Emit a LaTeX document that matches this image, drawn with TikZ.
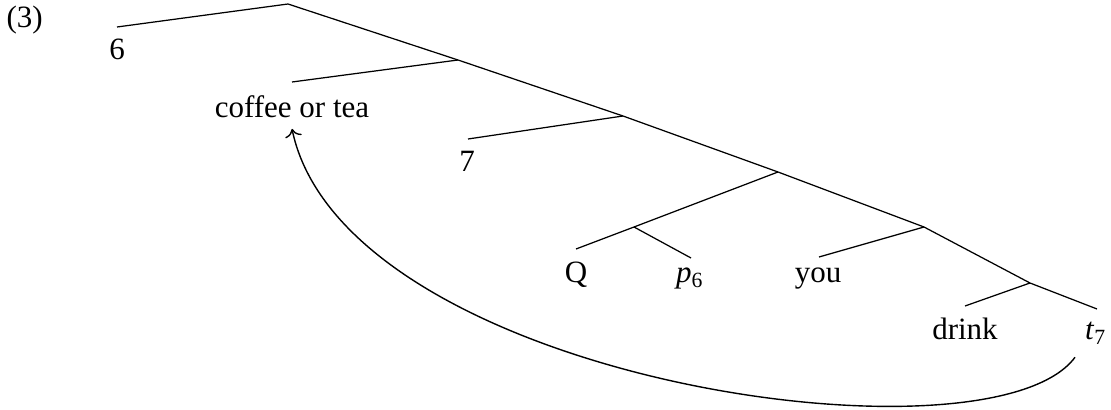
\documentclass[tikz,border=0pt]{standalone}
\usepackage{fontspec}
\setmainfont{Liberation Serif}
\usetikzlibrary{arrows.meta}

\begin{document}
\begin{tikzpicture}[
  x=0.3226pt, y=-0.3226pt,
  edge/.style={line width=0.4pt},
  leaf/.style={anchor=base, inner sep=0pt, font=\fontsize{10}{12}\selectfont},
  move/.style={->, line width=0.45pt},
]
\useasboundingbox (0,0) rectangle (1111,410);
%% example number
\node[leaf, anchor=base west] (exnum) at (6,28) {(3)};
%% branching points
\coordinate (root) at (288,4);
\coordinate (b1) at (458,60);
\coordinate (b2) at (623,116);
\coordinate (b3) at (778,172);
\coordinate (bq) at (634,227);
\coordinate (b4) at (924,227);
\coordinate (b5) at (1030,283);
%% tops of the leaf edges
\coordinate (six-e) at (117,27);
\coordinate (cot-e) at (292,82);
\coordinate (sev-e) at (468,139);
\coordinate (q-e) at (576,249);
\coordinate (p-e) at (691,258);
\coordinate (you-e) at (819,257);
\coordinate (drk-e) at (965,306);
\coordinate (t-e) at (1097,309);
%% leaves
\node[leaf] (six) at (117,60) {6};
\node[leaf] (cot) at (292,118) {coffee or tea};
\node[leaf] (sev) at (467,172) {7};
\node[leaf] (q) at (576,283) {Q};
\node[leaf] (psix) at (690,283) {\textit{p}\textsubscript{6}};
\node[leaf] (you) at (818,283) {you};
\node[leaf] (drk) at (965,340) {drink};
\node[leaf] (tsev) at (1096,340) {\textit{t}\textsubscript{7}};
%% edges
\draw[edge] (six-e) -- (root) -- (b1) -- (b2) -- (b3) -- (b4) -- (b5) -- (t-e);
\draw[edge] (cot-e) -- (b1);
\draw[edge] (sev-e) -- (b2);
\draw[edge] (q-e) -- (bq) -- (b3);
\draw[edge] (bq) -- (p-e);
\draw[edge] (you-e) -- (b4);
\draw[edge] (drk-e) -- (b5);
%% movement
\draw[move] ([shift={(-21,12)}]tsev.south)
  .. controls +(-85,115) and +(53,252) .. ([shift={(0,10)}]cot.south);
\end{tikzpicture}
\end{document}
